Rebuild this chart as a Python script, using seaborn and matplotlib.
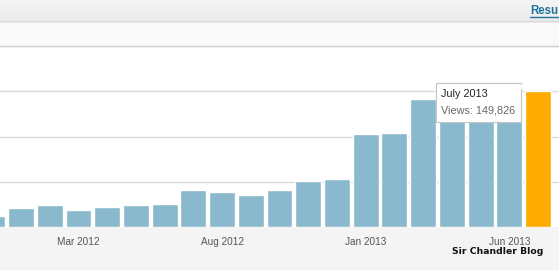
import matplotlib
matplotlib.use("Agg")
import matplotlib.pyplot as plt
import numpy as np
import pandas as pd
import seaborn as sns
from matplotlib.patches import Rectangle, Polygon
from matplotlib.lines import Line2D
from matplotlib.colors import LinearSegmentedColormap

# ---- data (monthly views) ----
months = ["Dec 2011", "Jan 2012", "Feb 2012", "Mar 2012", "Apr 2012", "May 2012",
          "Jun 2012", "Jul 2012", "Aug 2012", "Sep 2012", "Oct 2012", "Nov 2012",
          "Dec 2012", "Jan 2013", "Feb 2013", "Mar 2013", "Apr 2013", "May 2013",
          "Jun 2013", "Jul 2013", "Aug 2013"]
views = [12500, 21300, 24000, 18800, 22100, 24300,
         25400, 40500, 38600, 35300, 40500, 50800,
         53000, 102700, 103800, 141300, 139000, 134000,
         137000, 149826, 1200]
tick_labels = ["Mar 2012", "Aug 2012", "Jan 2013", "Jun 2013"]
highlight = "Jul 2013"
tooltip_title = "July 2013"
tooltip_text = "Views: 149,826"
watermark = "Sir Chandler Blog"
header_link = "Resu"

BLUE = "#8ab9cd"
ORANGE = "#ffab00"

df = pd.DataFrame({"month": months, "views": views})
palette = {m: (ORANGE if m == highlight else BLUE) for m in months}

sns.set_theme(style="white")
plt.rcParams["font.family"] = ["Liberation Sans", "DejaVu Sans"]

W, H = 559, 270
fig = plt.figure(figsize=(W / 100, H / 100), dpi=100)
fig.patch.set_facecolor("#f4f4f4")

# header gradient strip
hax = fig.add_axes([0, (H - 20) / H, 1, 20 / H])
grad = np.linspace(0, 1, 50).reshape(-1, 1)
cmap = LinearSegmentedColormap.from_list("hdr", ["#f5f5f5", "#ececec"])
hax.imshow(grad, aspect="auto", cmap=cmap, extent=[0, 1, 0, 1])
hax.set_axis_off()
fig.add_artist(Rectangle((0, (H - 23) / H), 1, 3 / H, transform=fig.transFigure,
                         facecolor="#e8e8e8", edgecolor="none", zorder=0))
fig.add_artist(Rectangle((0, (H - 46) / H), 1, 23 / H, transform=fig.transFigure,
                         facecolor="#f9f9f9", edgecolor="none", zorder=0))
fig.add_artist(Line2D([0, 1], [(H - 20.5) / H] * 2, transform=fig.transFigure,
                      color="#dedede", lw=1))
fig.text(530 / W, (H - 11) / H, header_link, color="#21759b", fontsize=8.3,
         fontweight="bold", ha="left", va="center")
fig.add_artist(Line2D([530 / W, 1], [(H - 16.5) / H] * 2, transform=fig.transFigure,
                      color="#21759b", lw=1))

# main plot area
ax = fig.add_axes([0, 43 / H, 1, 181 / H])
ax.set_facecolor("white")
sns.barplot(data=df, x="month", y="views", hue="month", palette=palette,
            width=0.9, saturation=1, legend=False, ax=ax, zorder=2)
ax.set_ylim(0, 200000)
ax.set_xlim(0.268, 19.73)
ax.set_yticks([50000, 100000, 150000, 200000])
ax.yaxis.grid(True, color="#dadada", lw=1)
ax.set_axisbelow(True)
ax.set_yticklabels([])
ax.tick_params(axis="y", length=0)
idx = [months.index(t) for t in tick_labels]
ax.set_xticks(idx)
ax.set_xticklabels(tick_labels, fontsize=7.2, color="#555555")
ax.tick_params(axis="x", length=0, pad=7)
ax.set_xlabel("")
ax.set_ylabel("")
for s in ["left", "right", "bottom"]:
    ax.spines[s].set_visible(False)
ax.spines["top"].set_color("#d0d0d0")
ax.spines["top"].set_linewidth(1)

# tooltip anchored to the highlighted bar
fig.canvas.draw()
hi = months.index(highlight)
px, py = ax.transData.transform((hi - 0.45, views[hi]))
bx1 = px - 4
by1 = py + 8
bw, bh = 85, 39
box = Rectangle(((bx1 - bw) / W, (by1 - bh) / H), bw / W, bh / H,
                transform=fig.transFigure, facecolor="white",
                edgecolor="#c4c4c4", lw=0.8, zorder=10)
fig.add_artist(box)
tri = Polygon([((bx1 - 0.5) / W, (by1 - 1) / H), ((bx1 - 0.5) / W, (by1 - 7) / H),
               ((bx1 + 3) / W, (by1 - 2) / H)], closed=True,
              transform=fig.transFigure, facecolor="white", edgecolor="none", zorder=11)
fig.add_artist(tri)
fig.text((bx1 - bw + 5) / W, (by1 - 11) / H, tooltip_title, fontsize=7.8,
         color="#222222", ha="left", va="center", zorder=12)
fig.text((bx1 - bw + 5) / W, (by1 - 27) / H, tooltip_text, fontsize=7.8,
         color="#666666", ha="left", va="center", zorder=12)

# watermark
fig.text(498 / W, (H - 251) / H, watermark, fontsize=6.7, fontweight="bold",
         color="#111111", ha="center", va="center", family="DejaVu Sans")

fig.savefig("out.png", dpi=100)
